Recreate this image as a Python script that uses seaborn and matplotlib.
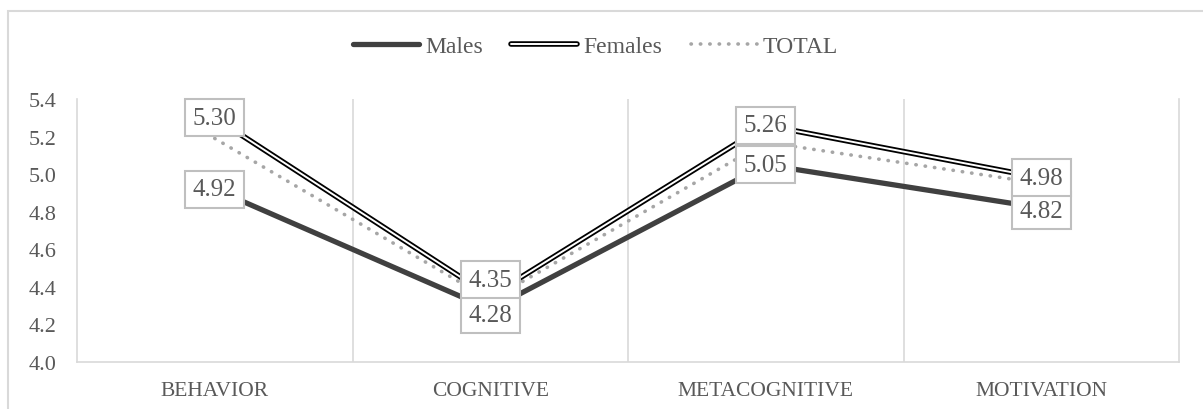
import matplotlib
matplotlib.use("Agg")
import matplotlib.pyplot as plt
import matplotlib.patches as patches
from matplotlib.lines import Line2D
from matplotlib.legend_handler import HandlerTuple
import pandas as pd
import seaborn as sns

categories = ["BEHAVIOR", "COGNITIVE", "METACOGNITIVE", "MOTIVATION"]
males = [4.92, 4.28, 5.05, 4.82]
females = [5.30, 4.35, 5.26, 4.98]
total = [5.19, 4.33, 5.17, 4.95]

sns.set_theme(style="white")
plt.rcParams['font.family'] = ['Liberation Serif', 'DejaVu Serif']

df = pd.DataFrame({"cat": categories, "Males": males, "Females": females, "TOTAL": total})
df["x"] = range(len(categories))

txt = "#595959"
grid = "#d9d9d9"
dots = (0, (0.1, 2.5))

fig = plt.figure(figsize=(12.03, 4.10), dpi=100)
ax = fig.add_axes([77 / 1203, 47 / 410, (1179 - 77) / 1203, (363 - 100) / 410])

# chart outer border
fig.patches.append(patches.Rectangle((8 / 1203, -0.1), 1.2, (410 - 12) / 410 + 0.1,
                                     transform=fig.transFigure, fill=False,
                                     edgecolor=grid, lw=1.5, zorder=0))

for xv in [0.5, 1.5, 2.5]:
    ax.axvline(xv, color=grid, lw=1.2, zorder=0)

sns.lineplot(data=df, x="x", y="TOTAL", ax=ax, color="#a6a6a6", lw=2.6,
             linestyle=dots, dash_capstyle="round", zorder=2)
sns.lineplot(data=df, x="x", y="Males", ax=ax, color="#404040", lw=3.8, zorder=3)
sns.lineplot(data=df, x="x", y="Females", ax=ax, color="black", lw=4, zorder=4)
sns.lineplot(data=df, x="x", y="Females", ax=ax, color="white", lw=1.4, zorder=5)

# label nudges (points) so stacked boxes don't cover each other
male_dy = [0, -4, 0, -2]
female_dy = [0, 12, 0, 0]

box = dict(boxstyle="square,pad=0.3", fc="white", ec="#bfbfbf", lw=1.5)
for i in range(len(categories)):
    for vals, dys in ((males, male_dy), (females, female_dy)):
        ax.annotate(f"{vals[i]:.2f}", (i, vals[i]), xytext=(0, dys[i]),
                    textcoords="offset points", ha="center", va="center",
                    fontsize=18, color=txt, bbox=box, zorder=6)

ax.set_xlim(-0.5, 3.5)
ax.set_ylim(4.0, 5.4)
ax.set_yticks([4.0, 4.2, 4.4, 4.6, 4.8, 5.0, 5.2, 5.4])
ax.set_yticklabels([f"{v:.1f}" for v in ax.get_yticks()], fontsize=16, color=txt)
ax.set_xticks(range(len(categories)))
ax.set_xticklabels(categories, fontsize=15.5, color=txt)
ax.tick_params(axis="y", length=0, pad=15)
ax.tick_params(axis="x", length=0, pad=14)
ax.set_xlabel("")
ax.set_ylabel("")
ax.spines["top"].set_visible(False)
for side in ["left", "bottom", "right"]:
    ax.spines[side].set_color(grid)
    ax.spines[side].set_linewidth(1.2)

h_m = Line2D([], [], color="#404040", lw=3.8)
h_f = (Line2D([], [], color="black", lw=4), Line2D([], [], color="white", lw=1.4))
h_t = Line2D([], [], color="#a6a6a6", lw=2.6, linestyle=dots, dash_capstyle="round")
fig.legend([h_m, h_f, h_t], ["Males", "Females", "TOTAL"],
           handler_map={tuple: HandlerTuple(ndivide=1, pad=0)},
           loc="center", bbox_to_anchor=(0.495, 1 - 47 / 410), ncol=3, frameon=False,
           fontsize=17, labelcolor=txt, handlelength=2.8, handletextpad=0.25,
           columnspacing=1.2)

fig.savefig("out.png", dpi=100)
